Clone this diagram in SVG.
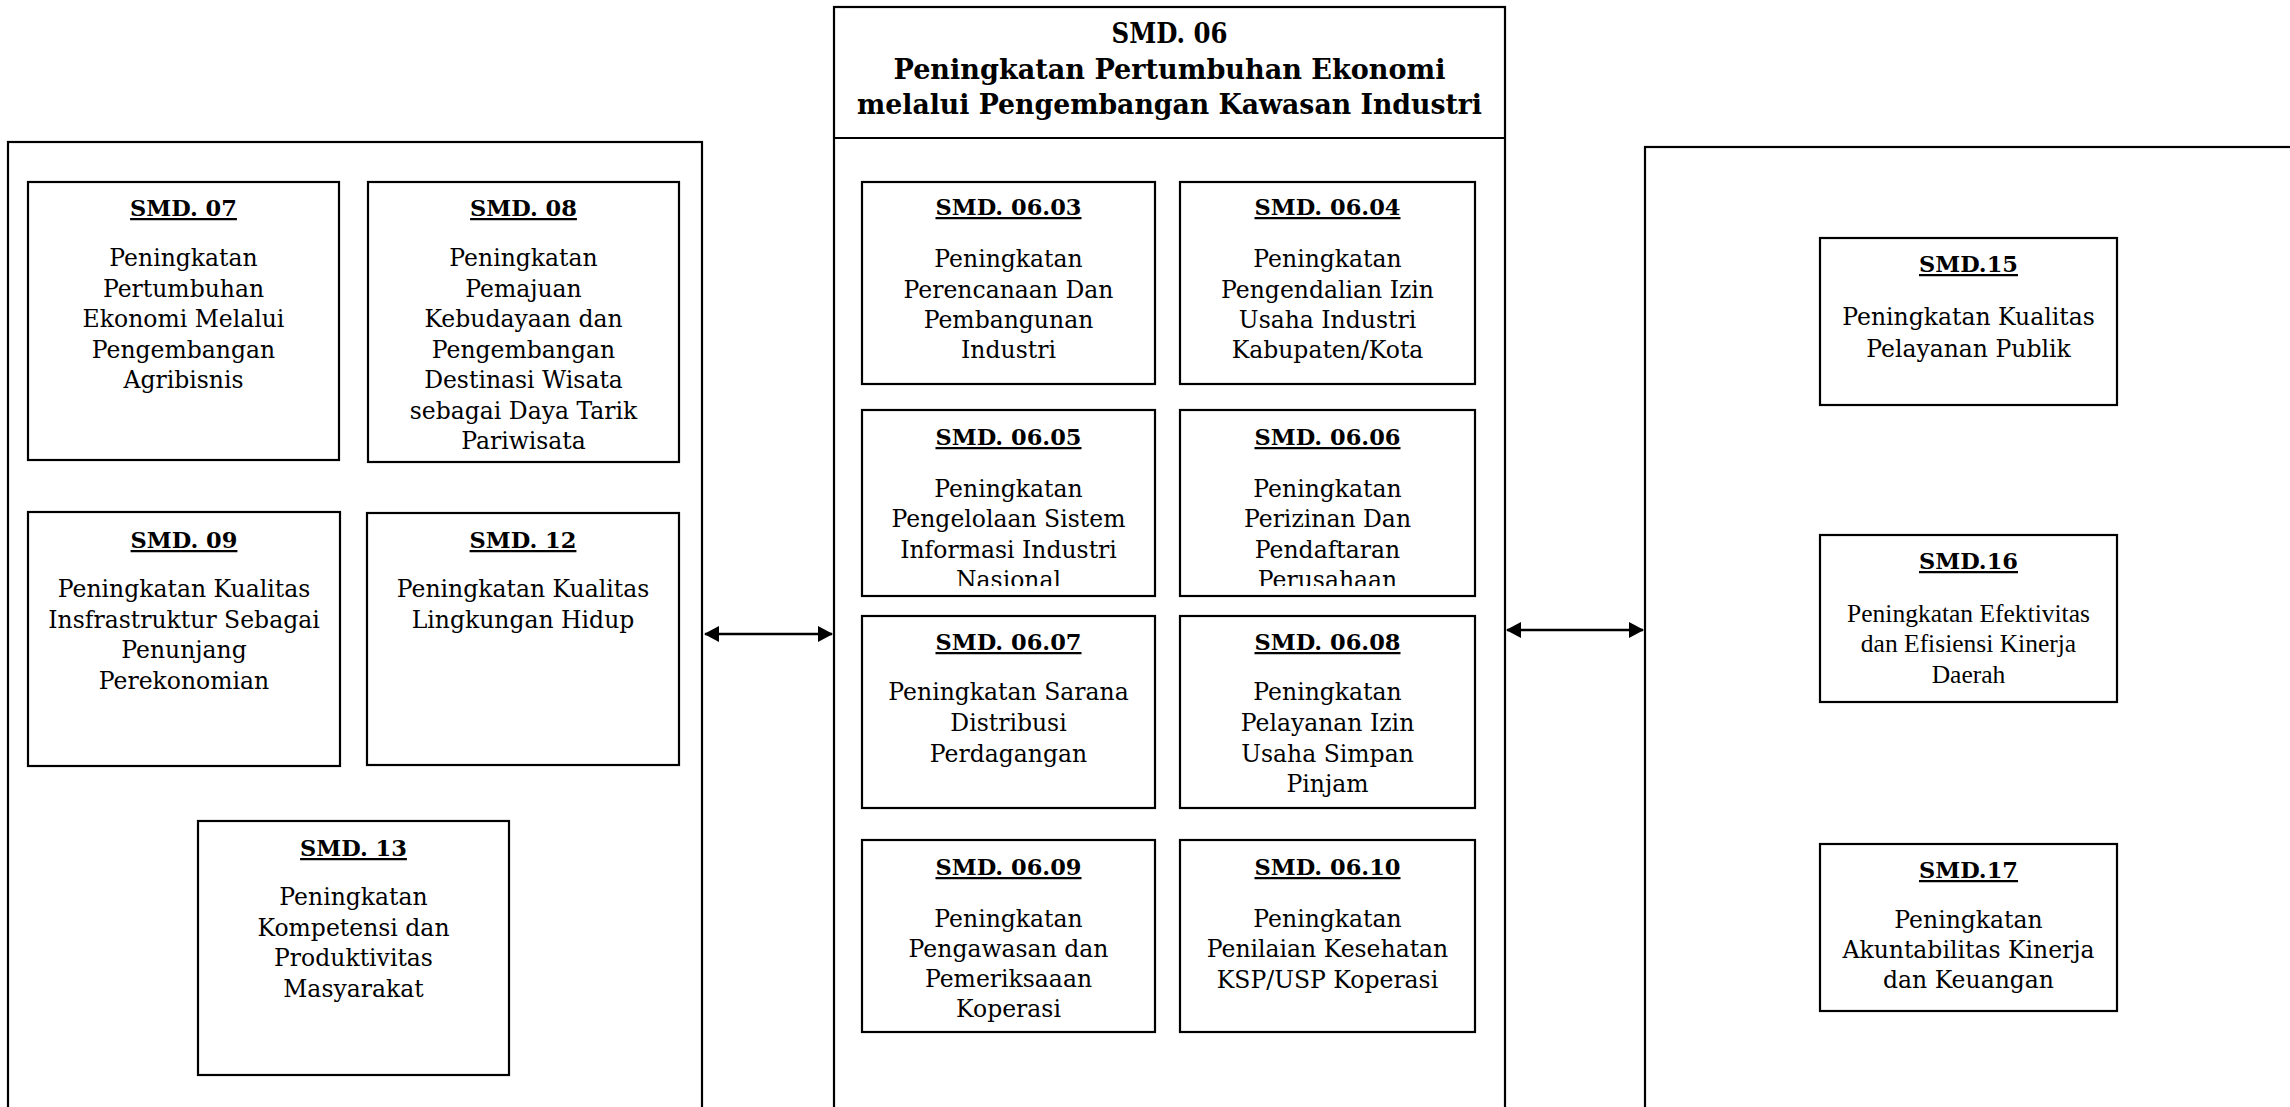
<svg xmlns="http://www.w3.org/2000/svg" width="2290" height="1107" viewBox="0 0 2290 1107">
  <style>
    .panel { fill: none; stroke: #000; stroke-width: 2.2; }
    .box { fill: #fff; stroke: #000; stroke-width: 2.2; }
    .link { stroke: #000; stroke-width: 2.5; fill: none; }
    .title { font-family: "DejaVu Serif", serif; font-weight: bold; font-size: 27px; text-anchor: middle; fill: #000; }
    .h { font-family: "DejaVu Serif", serif; font-weight: bold; font-size: 22.5px; text-anchor: middle; text-decoration: underline; fill: #000; }
    .t { font-family: "DejaVu Serif", serif; font-size: 23.5px; text-anchor: middle; fill: #000; }
    .c { font-family: "Liberation Serif", serif; font-size: 25.5px; text-anchor: middle; fill: #000; }
  </style>
  <defs>
    <marker id="head" viewBox="0 0 15 16" refX="14" refY="8" markerWidth="15" markerHeight="16" markerUnits="userSpaceOnUse" orient="auto-start-reverse">
      <path d="M0,0 L15,8 L0,16 z" fill="#000"/>
    </marker>
    <clipPath id="clip0605"><rect x="862" y="409" width="293" height="177"/></clipPath>
    <clipPath id="clip0606"><rect x="1180" y="409" width="295" height="177"/></clipPath>
  </defs>

  <rect width="2290" height="1107" fill="#fff"/>

  <!-- left group panel -->
  <g id="panel-left">
    <rect class="panel" x="8" y="142" width="694" height="1000"/>
  </g>

  <!-- center group panel with header -->
  <g id="panel-smd06">
    <rect class="panel" x="834" y="7" width="671" height="1130"/>
    <line class="panel" x1="834" y1="138" x2="1505" y2="138"/>
    <text class="title" x="1169.5" y="43" textLength="116" lengthAdjust="spacingAndGlyphs">SMD. 06</text>
    <text class="title" x="1169.5" y="79" textLength="552" lengthAdjust="spacingAndGlyphs">Peningkatan Pertumbuhan Ekonomi</text>
    <text class="title" x="1169.5" y="114" textLength="625" lengthAdjust="spacingAndGlyphs">melalui Pengembangan Kawasan Industri</text>
  </g>

  <!-- right group panel -->
  <g id="panel-right">
    <rect class="panel" x="1645" y="147" width="700" height="1000"/>
  </g>

  <!-- left panel nodes -->
  <g id="smd07">
    <rect class="box" x="28" y="182" width="311" height="278"/>
    <text class="h" x="183.5" y="216">SMD. 07</text>
    <text class="t" x="183.5" y="266">Peningkatan</text>
    <text class="t" x="183.5" y="296.5">Pertumbuhan</text>
    <text class="t" x="183.5" y="327">Ekonomi Melalui</text>
    <text class="t" x="183.5" y="357.5">Pengembangan</text>
    <text class="t" x="183.5" y="388">Agribisnis</text>
  </g>
  <g id="smd08">
    <rect class="box" x="368" y="182" width="311" height="280"/>
    <text class="h" x="523.5" y="216">SMD. 08</text>
    <text class="t" x="523.5" y="266">Peningkatan</text>
    <text class="t" x="523.5" y="296.5">Pemajuan</text>
    <text class="t" x="523.5" y="327">Kebudayaan dan</text>
    <text class="t" x="523.5" y="357.5">Pengembangan</text>
    <text class="t" x="523.5" y="388">Destinasi Wisata</text>
    <text class="t" x="523.5" y="418.5">sebagai Daya Tarik</text>
    <text class="t" x="523.5" y="449">Pariwisata</text>
  </g>
  <g id="smd09">
    <rect class="box" x="28" y="512" width="312" height="254"/>
    <text class="h" x="184" y="548">SMD. 09</text>
    <text class="t" x="184" y="597">Peningkatan Kualitas</text>
    <text class="t" x="184" y="627.5">Insfrastruktur Sebagai</text>
    <text class="t" x="184" y="658">Penunjang</text>
    <text class="t" x="184" y="688.5">Perekonomian</text>
  </g>
  <g id="smd12">
    <rect class="box" x="367" y="513" width="312" height="252"/>
    <text class="h" x="523" y="548">SMD. 12</text>
    <text class="t" x="523" y="597">Peningkatan Kualitas</text>
    <text class="t" x="523" y="627.5">Lingkungan Hidup</text>
  </g>
  <g id="smd13">
    <rect class="box" x="198" y="821" width="311" height="254"/>
    <text class="h" x="353.5" y="856">SMD. 13</text>
    <text class="t" x="353.5" y="905">Peningkatan</text>
    <text class="t" x="353.5" y="935.5">Kompetensi dan</text>
    <text class="t" x="353.5" y="966">Produktivitas</text>
    <text class="t" x="353.5" y="996.5">Masyarakat</text>
  </g>

  <!-- center panel nodes -->
  <g id="smd0603">
    <rect class="box" x="862" y="182" width="293" height="202"/>
    <text class="h" x="1008.5" y="215">SMD. 06.03</text>
    <text class="t" x="1008.5" y="267">Peningkatan</text>
    <text class="t" x="1008.5" y="297.5">Perencanaan Dan</text>
    <text class="t" x="1008.5" y="327.5">Pembangunan</text>
    <text class="t" x="1008.5" y="358">Industri</text>
  </g>
  <g id="smd0604">
    <rect class="box" x="1180" y="182" width="295" height="202"/>
    <text class="h" x="1327.5" y="215">SMD. 06.04</text>
    <text class="t" x="1327.5" y="267">Peningkatan</text>
    <text class="t" x="1327.5" y="297.5">Pengendalian Izin</text>
    <text class="t" x="1327.5" y="327.5">Usaha Industri</text>
    <text class="t" x="1327.5" y="358">Kabupaten/Kota</text>
  </g>
  <g id="smd0605">
    <rect class="box" x="862" y="410" width="293" height="186"/>
    <text class="h" x="1008.5" y="445">SMD. 06.05</text>
    <g clip-path="url(#clip0605)">
      <text class="t" x="1008.5" y="496.5">Peningkatan</text>
      <text class="t" x="1008.5" y="527">Pengelolaan Sistem</text>
      <text class="t" x="1008.5" y="557.5">Informasi Industri</text>
      <text class="t" x="1008.5" y="588">Nasional</text>
    </g>
  </g>
  <g id="smd0606">
    <rect class="box" x="1180" y="410" width="295" height="186"/>
    <text class="h" x="1327.5" y="445">SMD. 06.06</text>
    <g clip-path="url(#clip0606)">
      <text class="t" x="1327.5" y="496.5">Peningkatan</text>
      <text class="t" x="1327.5" y="527">Perizinan Dan</text>
      <text class="t" x="1327.5" y="557.5">Pendaftaran</text>
      <text class="t" x="1327.5" y="588">Perusahaan</text>
    </g>
  </g>
  <g id="smd0607">
    <rect class="box" x="862" y="616" width="293" height="192"/>
    <text class="h" x="1008.5" y="650">SMD. 06.07</text>
    <text class="t" x="1008.5" y="700">Peningkatan Sarana</text>
    <text class="t" x="1008.5" y="731">Distribusi</text>
    <text class="t" x="1008.5" y="762">Perdagangan</text>
  </g>
  <g id="smd0608">
    <rect class="box" x="1180" y="616" width="295" height="192"/>
    <text class="h" x="1327.5" y="650">SMD. 06.08</text>
    <text class="t" x="1327.5" y="700">Peningkatan</text>
    <text class="t" x="1327.5" y="731">Pelayanan Izin</text>
    <text class="t" x="1327.5" y="761.5">Usaha Simpan</text>
    <text class="t" x="1327.5" y="792">Pinjam</text>
  </g>
  <g id="smd0609">
    <rect class="box" x="862" y="840" width="293" height="192"/>
    <text class="h" x="1008.5" y="875">SMD. 06.09</text>
    <text class="t" x="1008.5" y="927">Peningkatan</text>
    <text class="t" x="1008.5" y="957">Pengawasan dan</text>
    <text class="t" x="1008.5" y="987">Pemeriksaaan</text>
    <text class="t" x="1008.5" y="1017">Koperasi</text>
  </g>
  <g id="smd0610">
    <rect class="box" x="1180" y="840" width="295" height="192"/>
    <text class="h" x="1327.5" y="875">SMD. 06.10</text>
    <text class="t" x="1327.5" y="927">Peningkatan</text>
    <text class="t" x="1327.5" y="957">Penilaian Kesehatan</text>
    <text class="t" x="1327.5" y="987.5">KSP/USP Koperasi</text>
  </g>

  <!-- right panel nodes -->
  <g id="smd15">
    <rect class="box" x="1820" y="238" width="297" height="167"/>
    <text class="h" x="1968.5" y="272">SMD.15</text>
    <text class="t" x="1968.5" y="325">Peningkatan Kualitas</text>
    <text class="t" x="1968.5" y="357">Pelayanan Publik</text>
  </g>
  <g id="smd16">
    <rect class="box" x="1820" y="535" width="297" height="167"/>
    <text class="h" x="1968.5" y="569">SMD.16</text>
    <text class="c" x="1968.5" y="622">Peningkatan Efektivitas</text>
    <text class="c" x="1968.5" y="652">dan Efisiensi Kinerja</text>
    <text class="c" x="1968.5" y="683">Daerah</text>
  </g>
  <g id="smd17">
    <rect class="box" x="1820" y="844" width="297" height="167"/>
    <text class="h" x="1968.5" y="878">SMD.17</text>
    <text class="t" x="1968.5" y="928">Peningkatan</text>
    <text class="t" x="1968.5" y="958">Akuntabilitas Kinerja</text>
    <text class="t" x="1968.5" y="988">dan Keuangan</text>
  </g>

  <!-- two-way links between the panels -->
  <g id="connectors">
    <line class="link" x1="705" y1="634" x2="832" y2="634" marker-start="url(#head)" marker-end="url(#head)"/>
    <line class="link" x1="1507" y1="630" x2="1643" y2="630" marker-start="url(#head)" marker-end="url(#head)"/>
  </g>
</svg>
